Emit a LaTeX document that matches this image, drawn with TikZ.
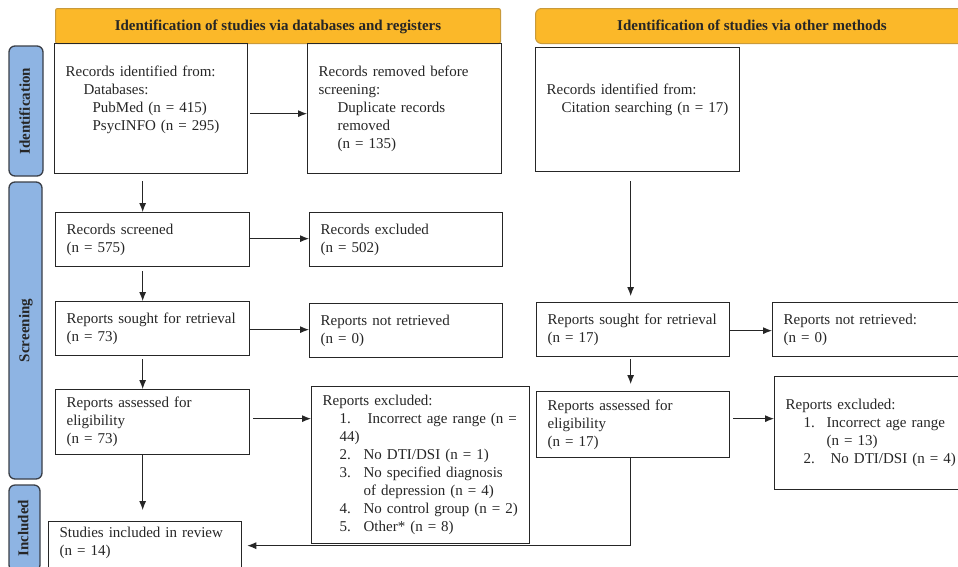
\documentclass[tikz,border=0pt]{standalone}
\usepackage{fontspec}
\setmainfont{Liberation Serif}
\usetikzlibrary{arrows.meta,calc}
\definecolor{hdr}{HTML}{FBB829}
\definecolor{hdrline}{HTML}{C99A3A}
\definecolor{side}{HTML}{8EB4E3}
\definecolor{sideline}{HTML}{3A3F48}
\definecolor{ink}{HTML}{262626}
\begin{document}
\begin{tikzpicture}[x=1pt,y=-1pt,
  box/.style={draw=ink, line width=1.3pt, anchor=north west, align=left,
    inner xsep=10.5pt, inner ysep=3pt, text=ink,
    font=\fontsize{15}{18}\selectfont},
  bx/.style n args={3}{box, minimum width=#1pt, text width=#2pt, minimum height=#3pt},
  hdrbox/.style={fill=hdr, draw=hdrline, line width=1pt, anchor=north west,
    minimum height=35pt, inner sep=0pt, text=ink, text height=10.5pt, text depth=1.5pt,
    font=\bfseries\fontsize{15}{18}\selectfont},
  sidebox/.style={fill=side, draw=sideline, line width=1.3pt, rounded corners=6pt,
    rotate=90, inner sep=0pt, text=ink, text height=10.5pt, text depth=3pt,
    font=\bfseries\fontsize{15}{18}\selectfont},
  arr/.style={draw=ink, line width=0.9pt, -{Latex[length=9pt,width=7pt]}}
]
\useasboundingbox (0,0) rectangle (958,566);
\clip (0,0) rectangle (958,566);
\fill[white] (0,0) rectangle (958,566);

% headers
\node[hdrbox, rounded corners=2pt, minimum width=445pt] (h1) at (55,8)
  {Identification of studies via databases and registers};
\node[hdrbox, rounded corners=6pt, minimum width=433pt] (h2) at (535,8)
  {Identification of studies via other methods};

% side labels
\node[sidebox, minimum width=130pt, minimum height=34pt] (sid) at (26,111) {Identification};
\node[sidebox, minimum width=297pt, minimum height=33pt] (sscr) at (25.5,330.5) {Screening};
\node[sidebox, minimum width=86pt, minimum height=31pt] (sinc) at (24.5,528) {Included};

% left column
\node[bx={193}{171}{130}] (b1) at (54,43)
  {\mbox{Records identified from:}\\
   \mbox{\hspace*{18pt}Databases:}\\
   \mbox{\hspace*{27pt}PubMed (n = 415)}\\
   \mbox{\hspace*{27pt}PsycINFO (n = 295)}\\[2pt]\mbox{}};
\node[bx={194}{172}{130}] (b2) at (307,43)
  {\mbox{Records removed before}\\
   \mbox{screening:}\\
   \mbox{\hspace*{19pt}Duplicate records}\\
   \mbox{\hspace*{19pt}removed}\\
   \mbox{\hspace*{19pt}(n = 135)}};
\node[bx={194}{172}{54}] (b4) at (55,212) {\mbox{Records screened}\\\mbox{(n = 575)}};
\node[bx={193}{171}{54}] (b5) at (309,212) {\mbox{Records excluded}\\\mbox{(n = 502)}};
\node[bx={194}{172}{54}] (b6) at (55,301) {\mbox{Reports sought for retrieval}\\\mbox{(n = 73)}};
\node[bx={193}{171}{54}] (b7) at (309,303) {\mbox{Reports not retrieved}\\\mbox{(n = 0)}};
\node[bx={194}{172}{65}] (b8) at (55,389) {\mbox{Reports assessed for}\\\mbox{eligibility}\\\mbox{(n = 73)}};
\node[bx={218}{196}{157}] (b9) at (311,386)
  {\mbox{Reports excluded:}\\
   \mbox{\hspace*{17pt}\makebox[28pt][l]{1.}Incorrect age range (n =}\\
   \mbox{\hspace*{17pt}44)}\\
   \mbox{\hspace*{17pt}\makebox[24pt][l]{2.}No DTI/DSI (n = 1)}\\
   \mbox{\hspace*{17pt}\makebox[24pt][l]{3.}No specified diagnosis}\\
   \mbox{\hspace*{41pt}of depression (n = 4)}\\
   \mbox{\hspace*{17pt}\makebox[24pt][l]{4.}No control group (n = 2)}\\
   \mbox{\hspace*{17pt}\makebox[24pt][l]{5.}Other* (n = 8)}};
\node[bx={193}{171}{55}] (b10) at (48,521)
  {\mbox{Studies included in review}\\\mbox{(n = 14)}\\[-2pt]\mbox{}};

% right column
\node[bx={204}{182}{124}] (b3) at (535,47)
  {\mbox{Records identified from:}\\
   \mbox{\hspace*{15pt}Citation searching (n = 17)}\\[5pt]\mbox{}};
\node[bx={193}{171}{54}] (b11) at (536,302) {\mbox{Reports sought for retrieval}\\\mbox{(n = 17)}};
\node[bx={196}{174}{54}] (b12) at (772,302) {\mbox{Reports not retrieved:}\\\mbox{(n = 0)}};
\node[bx={193}{171}{66}] (b13) at (536,391) {\mbox{Reports assessed for}\\\mbox{eligibility}\\\mbox{(n = 17)}};
\node[bx={196}{174}{113}] (b14) at (774,376)
  {\mbox{Reports excluded:}\\
   \mbox{\hspace*{18pt}\makebox[23pt][l]{1.}Incorrect age range}\\
   \mbox{\hspace*{41pt}(n = 13)}\\
   \mbox{\hspace*{18pt}\makebox[27pt][l]{2.}No DTI/DSI (n = 4)}};

% connectors
\draw[arr] ($(b1.east)+(2,5)$) -- ($(b2.west)+(0,5)$);
\draw[arr] ($(b1.south)+(-8.5,7)$) -- ($(b4.north)+(-10,0)$);
\draw[arr] ($(b4.east)+(0,-1)$) -- ($(b5.west)+(0,-1)$);
\draw[arr] ($(b4.south)+(-10,4)$) -- ($(b6.north)+(-10,0)$);
\draw[arr] ($(b6.east)+(0,1)$) -- ($(b7.west)+(0,-1)$);
\draw[arr] ($(b6.south)+(-10,3)$) -- ($(b8.north)+(-10,0)$);
\draw[arr] ($(b8.east)+(3,-3.5)$) -- ($(b9.west)+(0,-46.5)$);
\draw[arr] ($(b8.south)+(-10,0)$) -- ($(b10.north)+(-2.5,-11)$);
\draw[arr] ($(b3.south)+(-7,9)$) -- ($(b11.north)+(-2.5,-6)$);
\draw[arr] ($(b11.east)+(0,1)$) -- ($(b12.west)+(0,1)$);
\draw[arr] ($(b11.south)+(-2.5,2)$) -- ($(b13.north)+(-2.5,-7)$);
\draw[arr] ($(b13.east)+(3,-6)$) -- ($(b14.west)+(0,-14.5)$);
\draw[arr] ($(b13.south)+(-2.5,0)$) |- ($(b10.east)+(5,-3.5)$);
\end{tikzpicture}
\end{document}
